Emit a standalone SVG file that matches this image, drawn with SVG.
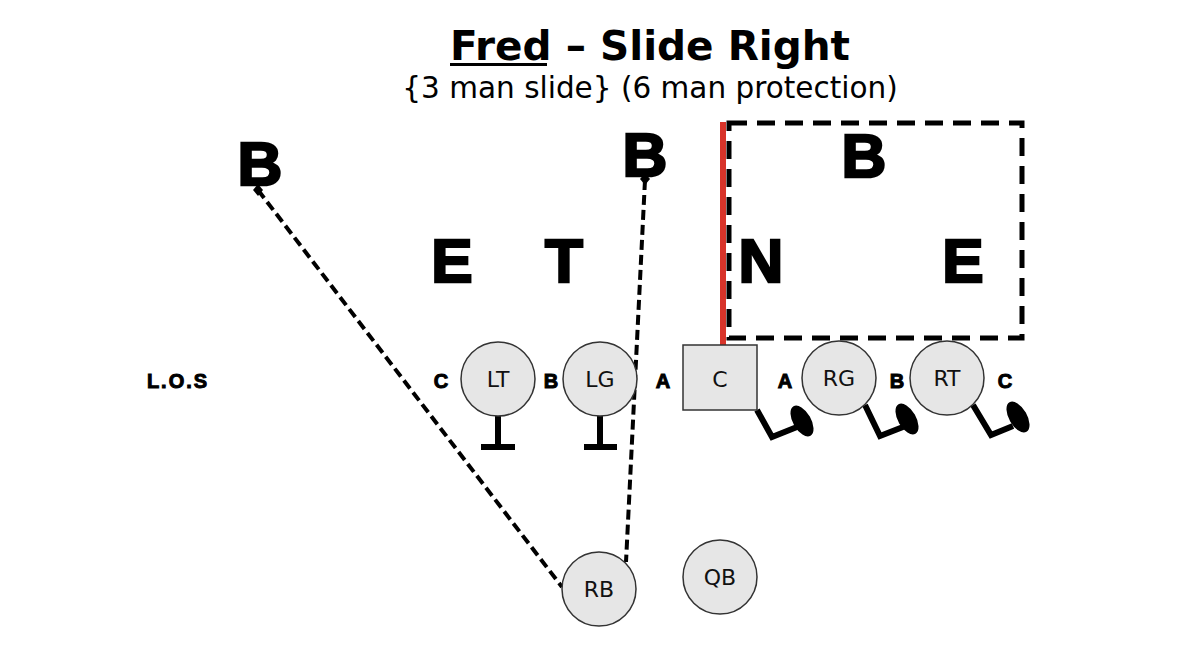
<svg xmlns="http://www.w3.org/2000/svg" width="1200" height="654" viewBox="0 0 1200 654">
<style>
.big{font-family:"Liberation Sans",Arial,sans-serif;font-weight:bold;font-size:62px;fill:#000;stroke:#000;stroke-width:2.5;text-anchor:middle}
.gap{font-family:"Liberation Sans",Arial,sans-serif;font-weight:bold;font-size:20px;fill:#000;stroke:#000;stroke-width:1;text-anchor:middle}
.lbl{font-family:"DejaVu Sans",sans-serif;font-size:22px;fill:#111;text-anchor:middle}
.pl{fill:#e6e6e6;stroke:#333;stroke-width:1.5}
.dash{fill:none;stroke:#000;stroke-width:4;stroke-dasharray:10 5}
.blk{fill:none;stroke:#000;stroke-width:6}
</style>
<rect width="1200" height="654" fill="#fff"/>
<g id="title">
<text x="450" y="60" font-family="DejaVu Sans,sans-serif" font-weight="bold" font-size="40.5" textLength="400" lengthAdjust="spacingAndGlyphs">Fred – Slide Right</text>
<rect x="450" y="63" width="97" height="3" fill="#000"/>
<text x="650" y="98" font-family="DejaVu Sans,sans-serif" font-size="29.5" text-anchor="middle">{3 man slide} (6 man protection)</text>
</g>
<g id="defense">
<text class="big" x="260" y="185">B</text>
<text class="big" x="645" y="176">B</text>
<text class="big" x="864" y="177">B</text>
<text class="big" x="452" y="282">E</text>
<text class="big" x="564" y="282">T</text>
<text class="big" x="761" y="282">N</text>
<text class="big" x="963" y="282">E</text>
</g>
<g id="slide-zone">
<rect x="729" y="123" width="293" height="215" fill="none" stroke="#000" stroke-width="5" stroke-dasharray="18 10"/>
<line x1="723" y1="122" x2="723" y2="345" stroke="#d8342a" stroke-width="6"/>
</g>
<g id="los"><text x="178" y="388" font-family="Liberation Sans,Arial,sans-serif" font-weight="bold" font-size="20" stroke="#000" stroke-width="1" letter-spacing="2" text-anchor="middle">L.O.S</text></g>
<g id="gaps">
<text class="gap" x="441" y="388">C</text>
<text class="gap" x="551" y="388">B</text>
<text class="gap" x="663" y="388">A</text>
<text class="gap" x="785" y="388">A</text>
<text class="gap" x="897" y="388">B</text>
<text class="gap" x="1005" y="388">C</text>
</g>
<g id="connectors">
<line class="dash" x1="258" y1="190" x2="562" y2="587"/>
<line class="dash" x1="645" y1="180" x2="626" y2="562"/>
<path d="M258,184 L263,190 L258,196 L253,190 Z" fill="#000"/>
<path d="M645,173 L650,179 L645,185 L640,179 Z" fill="#000"/>
<path class="blk" d="M498,416 V447 M481,447 H515"/>
<path class="blk" d="M600,416 V447 M584,447 H617"/>
<path class="blk" d="M757,410 L772,437 L797,427"/>
<ellipse cx="802" cy="421" rx="9" ry="17" transform="rotate(-30 802 421)" fill="#000"/>
<path class="blk" d="M865,405 L880,436 L903,427"/>
<ellipse cx="907" cy="419" rx="9" ry="17" transform="rotate(-30 907 419)" fill="#000"/>
<path class="blk" d="M973,405 L991,435 L1013,426"/>
<ellipse cx="1018" cy="417" rx="9" ry="17" transform="rotate(-30 1018 417)" fill="#000"/>
</g>
<g id="LT"><circle class="pl" cx="498" cy="379" r="37"/><text class="lbl" x="498" y="387">LT</text></g>
<g id="LG"><circle class="pl" cx="600" cy="379" r="37"/><text class="lbl" x="600" y="387">LG</text></g>
<g id="C"><rect class="pl" x="683" y="345" width="74" height="65"/><text class="lbl" x="720" y="387">C</text></g>
<g id="RG"><circle class="pl" cx="839" cy="378" r="37"/><text class="lbl" x="839" y="386">RG</text></g>
<g id="RT"><circle class="pl" cx="947" cy="378" r="37"/><text class="lbl" x="947" y="386">RT</text></g>
<g id="RB"><circle class="pl" cx="599" cy="589" r="37"/><text class="lbl" x="599" y="597">RB</text></g>
<g id="QB"><circle class="pl" cx="720" cy="577" r="37"/><text class="lbl" x="720" y="585">QB</text></g>
</svg>
